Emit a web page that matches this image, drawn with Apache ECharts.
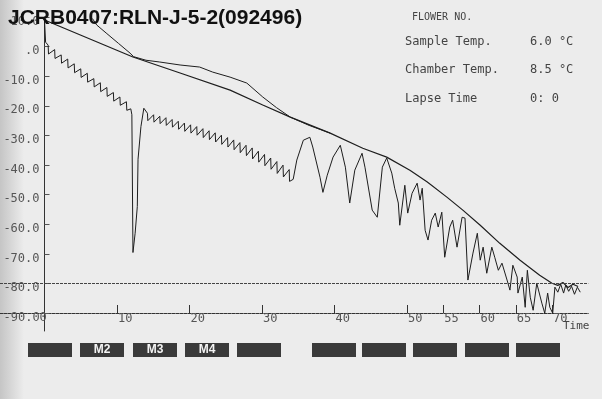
<!DOCTYPE html>
<html>
<head>
<meta charset="utf-8">
<script src="https://cdn.jsdelivr.net/npm/echarts@6.0.0/dist/echarts.min.js"></script>
<style>
html, body { margin: 0; padding: 0; background: #ececec; }
#main { width: 602px; height: 399px; }
</style>
</head>
<body>
<div id="main"></div>
<script>
// time (min) / temperature (°C)
var chamberTemp = [[0, 9.0], [12.2, -3.5], [18.7, -8.9], [25.6, -14.7], [30.1, -19.7], [33.9, -23.8],
    [39.4, -29.2], [43.9, -34.3], [47.2, -37.3], [50.4, -41.7], [52.8, -45.7], [55.5, -50.8],
    [57.7, -55.2], [60.1, -60.3], [62.8, -66.4], [65.6, -72.1], [68.3, -77.2], [70.0, -79.9],
    [70.8, -80.6], [71.5, -79.6], [72.2, -81.3], [72.9, -80.2], [73.6, -81.0]];

var shelfTemp = [[6.6, 9.5], [7.2, 7.3], [8.5, 4.6], [10.2, 1.1], [11.8, -2.2], [12.3, -3.4],
    [14.0, -4.6], [15.9, -5.2], [18.7, -6.2], [21.4, -6.9], [23.2, -8.6], [25.6, -10.3],
    [27.9, -12.3], [30.1, -17.0], [32.0, -20.6], [33.9, -23.8], [36.5, -26.6], [39.4, -29.2]];

var sampleTemp = [[0, 9.0], [0.15, 1.5], [0.5, 0.5], [0.55, -2.5], [1.4, -1.0], [1.45, -4.0],
    [2.3, -2.8], [2.35, -5.6], [3.2, -4.2], [3.25, -7.2], [4.1, -5.8], [4.15, -8.8],
    [5.0, -7.5], [5.05, -10.4], [5.9, -9.0], [5.95, -12.0], [6.8, -10.8], [6.85, -13.6],
    [7.7, -12.2], [7.75, -15.2], [8.6, -13.8], [8.65, -16.8], [9.5, -15.5], [9.55, -18.4],
    [10.4, -17.0], [10.45, -19.8], [11.3, -18.6], [11.35, -21.5], [11.9, -21.0],
    // sharp dip
    [12.05, -23.0], [12.2, -69.5], [12.5, -63.0], [12.8, -54.0], [12.9, -38.0], [13.3, -27.0], [13.7, -20.8],
    [14.2, -22.5], [14.25, -25.0], [15.05, -23.0], [15.1, -25.5], [15.9, -23.5], [15.95, -26.0],
    [16.75, -24.0], [16.8, -26.6], [17.6, -24.6], [17.65, -27.2], [18.45, -25.2], [18.5, -27.9],
    [19.3, -25.8], [19.35, -28.6], [20.15, -26.4], [20.2, -29.2], [21.0, -27.0], [21.05, -29.9],
    [21.85, -27.7], [21.9, -30.7], [22.7, -28.4], [22.75, -31.4], [23.55, -29.1], [23.6, -32.2],
    [24.4, -29.9], [24.45, -33.0], [25.25, -30.7], [25.3, -33.9], [26.1, -31.5], [26.15, -34.8],
    [26.95, -32.4], [27.0, -35.8], [27.8, -33.3], [27.85, -36.8], [28.65, -34.2], [28.7, -37.9],
    [29.5, -35.3], [29.55, -39.0], [30.35, -36.4], [30.4, -40.2], [31.2, -37.6], [31.25, -41.4],
    [32.05, -38.8], [32.1, -42.8], [32.9, -40.0], [32.95, -44.0], [33.75, -41.5], [33.8, -45.5],
    // oscillating part
    [34.3, -44.8], [34.8, -38.3], [35.7, -31.6], [36.6, -30.6], [37.0, -33.9], [38.0, -44.1],
    [38.4, -49.2], [39.0, -43.4], [39.8, -37.3], [40.8, -33.3], [41.5, -40.7], [42.1, -52.8],
    [42.8, -41.7], [43.8, -36.0], [44.2, -40.7], [45.2, -55.2], [45.9, -57.6], [46.6, -40.7],
    [47.2, -37.6], [47.9, -42.7], [48.3, -47.8], [48.8, -52.8], [49.0, -60.3], [49.7, -46.8],
    [50.1, -56.2], [50.7, -49.5], [51.4, -46.1], [51.8, -51.8], [52.1, -47.8], [52.5, -62.0],
    [52.9, -65.3], [53.4, -58.6], [53.9, -56.2], [54.3, -60.9], [54.8, -55.9], [55.2, -71.1],
    [55.9, -60.9], [56.3, -58.6], [56.9, -67.7], [57.6, -57.6], [58.0, -57.9], [58.4, -78.8],
    [59.1, -69.7], [59.7, -63.0], [60.1, -72.1], [60.5, -67.7], [61.0, -76.5], [61.7, -67.7],
    [62.1, -71.1], [62.6, -75.5], [63.1, -73.1], [63.8, -78.8], [64.2, -82.2], [64.6, -73.8],
    [65.2, -77.8], [65.3, -83.2], [65.9, -77.8], [66.3, -88.0], [66.6, -75.5], [67.0, -84.6],
    [67.4, -89.0], [67.9, -79.9], [68.6, -86.6], [69.0, -90.0], [69.4, -83.2], [69.7, -88.0],
    [70.1, -90.0], [70.4, -81.2], [70.8, -82.9], [71.2, -80.2], [71.6, -83.2], [71.9, -80.5],
    [72.3, -82.6], [72.7, -80.9], [73.1, -83.6], [73.5, -81.2], [73.9, -82.9]];

var xTicks = [10, 20, 30, 40, 50, 55, 60, 65, 70];
var yTicks = [10, 0, -10, -20, -30, -40, -50, -60, -70, -80, -90];
var yLabels = ['10.0', '.0', '-10.0', '-20.0', '-30.0', '-40.0', '-50.0', '-60.0', '-70.0', '-80.0', '-90.00'];

var titleText = 'JCRB0407:RLN-J-5-2(092496)';
var headText = 'FLOWER NO.';
var panelLabels = ['Sample Temp.', 'Chamber Temp.', 'Lapse Time'];
var panelValues = ['6.0 \u00b0C', '8.5 \u00b0C', '0: 0'];
var boxLabels = ['', 'M2', 'M3', 'M4', '', '', '', '', '', ''];
var boxLeft = [28, 80, 133, 185, 237, 312, 362, 413, 465, 516];

var mono = '"DejaVu Sans Mono", "Liberation Mono", monospace';
var ink = '#1e1e1e';

var myChart = echarts.init(document.getElementById('main'));

var graphics = [
    {
        type: 'rect', silent: true, z: -1,
        shape: {x: 0, y: 0, width: 24, height: 399},
        style: {
            fill: new echarts.graphic.LinearGradient(0, 0, 1, 0, [
                {offset: 0, color: 'rgba(150,150,150,0.45)'},
                {offset: 1, color: 'rgba(150,150,150,0)'}
            ])
        }
    },
    {
        type: 'text', z: 100, left: 8, top: 8,
        style: {text: titleText, fill: '#111', font: 'bold 21px "Liberation Sans", Arial, sans-serif'}
    },
    {
        type: 'text', z: 100, left: 412, top: 12,
        style: {text: headText, fill: '#444', font: '10px ' + mono}
    },
    {
        type: 'text', z: 100, left: 563, top: 321,
        style: {text: 'Time', fill: '#444', font: '11px ' + mono}
    }
];

panelLabels.forEach(function (lbl, i) {
    var y = [36, 64, 93][i];
    graphics.push({type: 'text', z: 100, left: 405, top: y,
        style: {text: lbl, fill: '#444', font: '12px ' + mono}});
    graphics.push({type: 'text', z: 100, left: 530, top: y,
        style: {text: panelValues[i], fill: '#444', font: '12px ' + mono}});
});

boxLeft.forEach(function (x, i) {
    graphics.push({type: 'rect', z: 100, shape: {x: x, y: 343, width: 44, height: 14},
        style: {fill: '#3a3a3a'}});
    if (boxLabels[i]) {
        graphics.push({type: 'text', z: 101, x: x + 22, y: 350,
            style: {text: boxLabels[i], fill: '#f4f4f4', font: 'bold 12px "Liberation Sans", Arial',
                textAlign: 'center', textVerticalAlign: 'middle'}});
    }
});

var option = {
    backgroundColor: '#ececec',
    animation: false,
    grid: {left: 0, right: 13.75, top: 17, bottom: 68, containLabel: false, outerBoundsMode: 'none'},
    xAxis: {
        type: 'value',
        min: -6.14,
        max: 75,
        offset: -18,
        splitLine: {show: false},
        axisLine: {onZero: false, lineStyle: {color: '#333', width: 1, type: [3, 1]}},
        axisTick: {inside: true, length: 8, customValues: xTicks, lineStyle: {color: '#333'}},
        axisLabel: {customValues: xTicks, align: 'left', margin: 0, padding: [0, 0, 0, 1],
            color: '#555', fontFamily: mono, fontSize: 12}
    },
    yAxis: {
        type: 'value',
        min: -96,
        max: 10,
        offset: -44.5,
        splitLine: {show: false},
        axisLine: {onZero: false, lineStyle: {color: '#333', width: 1}},
        axisTick: {inside: true, length: 5, customValues: yTicks, lineStyle: {color: '#555'}},
        axisLabel: {
            customValues: yTicks,
            margin: 5,
            verticalAlign: 'top',
            lineHeight: 9,
            color: '#555', fontFamily: mono, fontSize: 12,
            formatter: function (v) {
                var i = yTicks.indexOf(v);
                if (i < 0) return '';
                return v === -90 ? '{wide|' + yLabels[i] + '}' : yLabels[i];
            },
            rich: {
                wide: {width: 36, align: 'left', lineHeight: 9, color: '#555', fontFamily: mono, fontSize: 12}
            }
        }
    },
    series: [
        {
            name: 'Chamber', type: 'line', data: chamberTemp, showSymbol: false,
            lineStyle: {color: ink, width: 1.2},
            markLine: {
                silent: true, symbol: 'none', label: {show: false},
                lineStyle: {color: '#444', width: 1, type: [3, 1]},
                data: [{yAxis: -80}]
            }
        },
        {
            name: 'Shelf', type: 'line', data: shelfTemp, showSymbol: false,
            lineStyle: {color: ink, width: 1}
        },
        {
            name: 'Sample', type: 'line', data: sampleTemp, showSymbol: false,
            lineStyle: {color: ink, width: 1}
        }
    ],
    graphic: graphics
};

myChart.setOption(option);
</script>
</body>
</html>
